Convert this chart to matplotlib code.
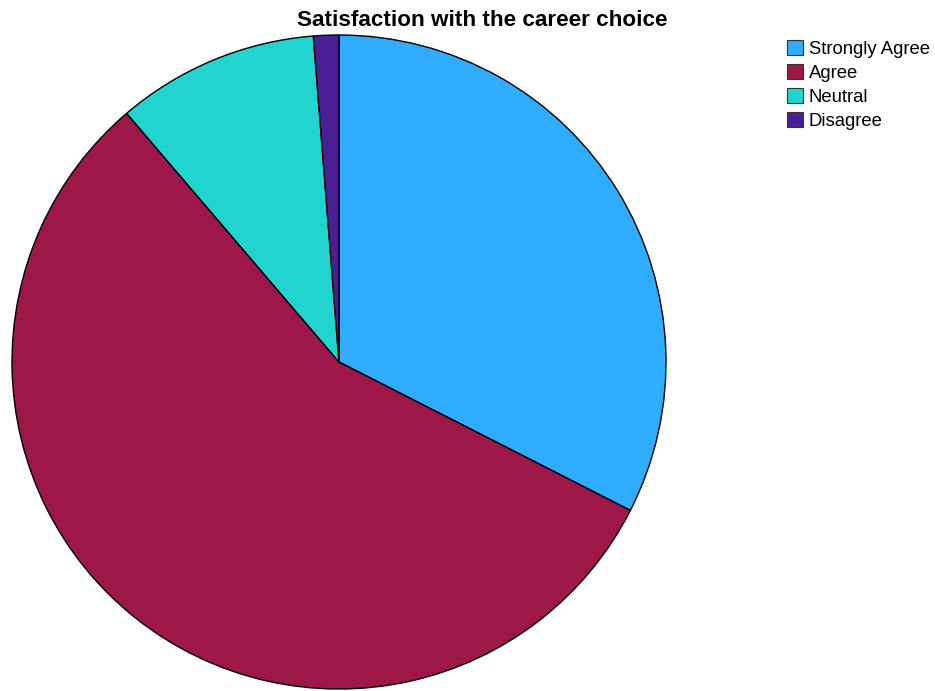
import matplotlib
matplotlib.use("Agg")
import matplotlib.pyplot as plt
from matplotlib.patches import Patch

plt.rcParams['font.family'] = ['Liberation Sans', 'DejaVu Sans']

categories = ["Strongly Agree", "Agree", "Neutral", "Disagree"]
counts = [26, 45, 8, 1]
colors = ["#2FACFE", "#9E1749", "#22D4CF", "#4A1F96"]
title = "Satisfaction with the career choice"

W, H = 935, 691
fig = plt.figure(figsize=(W / 100, H / 100), dpi=100)

cx, cy, r = 339, 362, 327
ax = fig.add_axes([(cx - r) / W, (H - cy - r) / H, 2 * r / W, 2 * r / H])
ax.pie(counts, colors=colors, startangle=90, counterclock=False,
       wedgeprops=dict(edgecolor="black", linewidth=1.0), radius=1.0)
ax.set_xlim(-1, 1)
ax.set_ylim(-1, 1)
ax.set_aspect("equal")
ax.axis("off")

fig.text(482 / W, 1 - 20 / H, title, ha="center", va="center",
         fontsize=16.2, fontweight="bold")

handles = [Patch(facecolor=c, edgecolor="#333333", linewidth=0.8) for c in colors]
fig.legend(handles, categories, loc="upper left",
           bbox_to_anchor=(787 / W, 1 - 40 / H), frameon=False,
           fontsize=13.3, handlelength=0.87, handleheight=0.87,
           handletextpad=0.3, labelspacing=0.34, borderpad=0, borderaxespad=0)

fig.savefig("out.png", dpi=100)
